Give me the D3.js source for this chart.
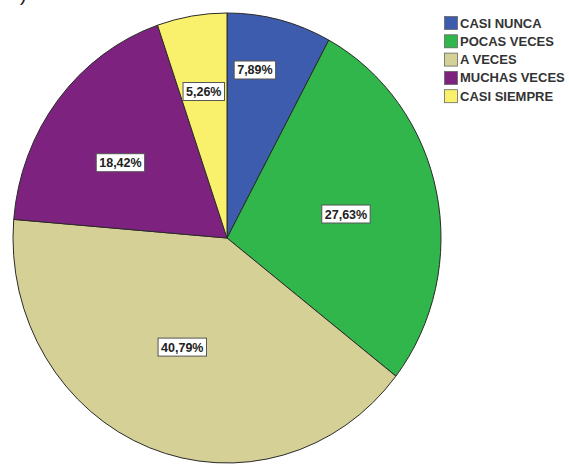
<!DOCTYPE html>
<html>
<head>
<meta charset="utf-8">
<script src="https://cdn.jsdelivr.net/npm/d3@7"></script>
<style>
  html, body { margin: 0; padding: 0; background: #ffffff; }
  svg { display: block; }
</style>
</head>
<body>
<svg id="chart" width="569" height="464"></svg>
<script>
// Response categories and their shares (%)
const categories = ["CASI NUNCA", "POCAS VECES", "A VECES", "MUCHAS VECES", "CASI SIEMPRE"];
const percentages = [7.89, 27.63, 40.79, 18.42, 5.26];
const sliceColors = ["#3d5cae", "#30b64b", "#d5d096", "#7e2280", "#f9f16c"];

const svg = d3.select("#chart");
const W = 569, H = 464;

// Pie geometry (drawn slightly taller than wide)
const cx = 227, cy = 238;
const rx = 214, ry = 225;

const data = categories.map((c, i) => ({ category: c, value: percentages[i], color: sliceColors[i] }));

const pie = d3.pie().value(d => d.value).sort(null).startAngle(0).endAngle(2 * Math.PI);
const arcs = pie(data);
const arc = d3.arc().innerRadius(0).outerRadius(ry);

// Clipped-off closing parenthesis at the top left
svg.append("text")
  .attr("x", 20).attr("y", 1)
  .attr("font-family", "Liberation Sans, Arial, sans-serif")
  .attr("font-size", 20)
  .attr("fill", "#222")
  .text(")");

const pieG = svg.append("g")
  .attr("transform", `translate(${cx},${cy}) scale(${rx / ry},1)`);

pieG.selectAll("path.slice")
  .data(arcs)
  .join("path")
  .attr("class", "slice")
  .attr("d", arc)
  .attr("fill", d => d.data.color)
  .attr("stroke", "#2a2a2a")
  .attr("stroke-width", 1)
  .attr("vector-effect", "non-scaling-stroke");

// Percentage labels in white boxes
const fmt = v => d3.format(".2f")(v).replace(".", ",") + "%";
// radial fraction and angular nudge (degrees) for each label
const labelPlacement = [[0.758, -4.3], [0.566, 1], [0.528, 2], [0.60, -4], [0.66, 0]];

const labelG = svg.append("g");
arcs.forEach((a, i) => {
  const [frac, nudge] = labelPlacement[i];
  const ang = (a.startAngle + a.endAngle) / 2 + nudge * Math.PI / 180;
  const x = cx + frac * rx * Math.sin(ang);
  const y = cy - frac * ry * Math.cos(ang);
  const g = labelG.append("g").attr("transform", `translate(${x},${y})`);
  const rect = g.append("rect");
  const t = g.append("text")
    .attr("text-anchor", "middle")
    .attr("dy", "0.36em")
    .attr("font-family", "Liberation Sans, Arial, sans-serif")
    .attr("font-weight", "bold")
    .attr("font-size", 12.5)
    .attr("fill", "#222")
    .text(fmt(a.data.value));
  const w = t.node().getComputedTextLength() + 6;
  const h = 18;
  rect.attr("x", -w / 2).attr("y", -h / 2).attr("width", w).attr("height", h)
    .attr("fill", "#ffffff")
    .attr("stroke", "#555")
    .attr("stroke-width", 1);
});

// Legend
const legend = svg.append("g").attr("transform", "translate(444,16)");
const rowH = 18.3;
const items = legend.selectAll("g.item")
  .data(data)
  .join("g")
  .attr("class", "item")
  .attr("transform", (d, i) => `translate(0,${i * rowH})`);

items.append("rect")
  .attr("x", 0.5).attr("y", 0.5)
  .attr("width", 13).attr("height", 13)
  .attr("fill", d => d.color)
  .attr("stroke", "#666")
  .attr("stroke-width", 0.8);

items.append("text")
  .attr("x", 16)
  .attr("y", 11.5)
  .attr("font-family", "Liberation Sans, Arial, sans-serif")
  .attr("font-weight", "bold")
  .attr("font-size", 13)
  .attr("fill", "#333")
  .text(d => d.category);
</script>
</body>
</html>
